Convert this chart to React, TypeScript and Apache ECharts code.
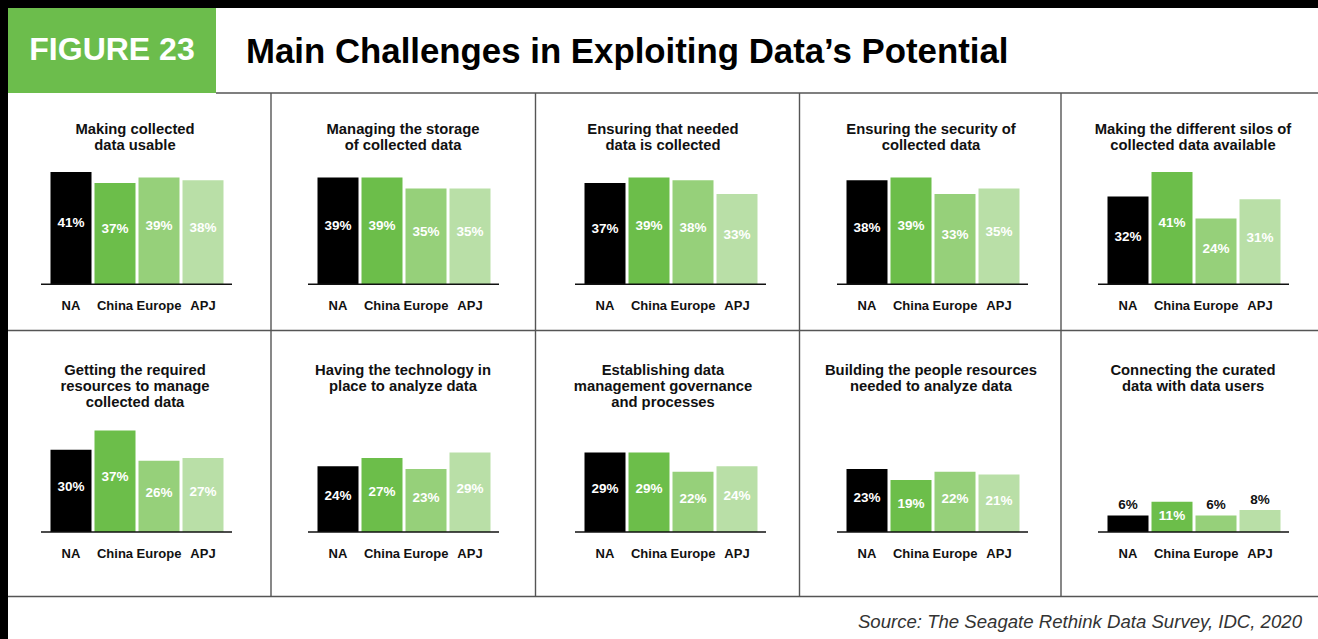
import React, { useEffect, useRef } from "react";
import * as echarts from "echarts";

// ---------- data ----------
const CATEGORIES = ["NA", "China", "Europe", "APJ"];

const PANEL_TITLES = [
  "Making collected\ndata usable",
  "Managing the storage\nof collected data",
  "Ensuring that needed\ndata is collected",
  "Ensuring the security of\ncollected data",
  "Making the different silos of\ncollected data available",
  "Getting the required\nresources to manage\ncollected data",
  "Having the technology in\nplace to analyze data",
  "Establishing data\nmanagement governance\nand processes",
  "Building the people resources\nneeded to analyze data",
  "Connecting the curated\ndata with data users",
];

const usableData = [41, 37, 39, 38];
const storageData = [39, 39, 35, 35];
const collectedData = [37, 39, 38, 33];
const securityData = [38, 39, 33, 35];
const silosData = [32, 41, 24, 31];
const resourcesData = [30, 37, 26, 27];
const technologyData = [24, 27, 23, 29];
const governanceData = [29, 29, 22, 24];
const peopleData = [23, 19, 22, 21];
const connectingData = [6, 11, 6, 8];

const PANEL_VALUES = [
  usableData, storageData, collectedData, securityData, silosData,
  resourcesData, technologyData, governanceData, peopleData, connectingData,
];

const HEADER_LABEL = "FIGURE 23";
const MAIN_TITLE = "Main Challenges in Exploiting Data\u2019s Potential";
const SOURCE_TEXT = "Source: The Seagate Rethink Data Survey, IDC, 2020";

// ---------- style / layout ----------
const BAR_COLORS = ["#000000", "#6cbe4a", "#96d07a", "#b9dfa7"];
const GREEN = "#6cbd4c";
const FONT = '"Liberation Sans", Arial, Helvetica, sans-serif';
const COL_BAR_START = [50, 317, 584, 846, 1107];
const COL_TITLE_X = [135, 403, 663, 931, 1193];
const ROW_BASE = [284.3, 532];
const ROW_TITLE_TOP = [120.5, 361.5];
const Y_MAX = 50;
const GRID_H = 137;
const LINE_COLOR = "#555";

export default function App() {
  const ref = useRef<HTMLDivElement>(null);

  useEffect(() => {
    document.body.style.margin = "0";
    if (!ref.current) return;
    const chart = echarts.init(ref.current, null, { renderer: "svg" });

    const grids: any[] = [];
    const xAxes: any[] = [];
    const yAxes: any[] = [];
    const series: any[] = [];
    const graphics: any[] = [];

    // frame
    graphics.push(
      { type: "rect", shape: { x: 0, y: 0, width: 1318, height: 8 }, style: { fill: "#000" } },
      { type: "rect", shape: { x: 0, y: 0, width: 8, height: 639 }, style: { fill: "#000" } },
      { type: "rect", shape: { x: 8, y: 8, width: 208, height: 85 }, style: { fill: GREEN } },
      {
        type: "text", x: 112, y: 49,
        style: { text: HEADER_LABEL, fill: "#fff", fontSize: 32, fontWeight: "bold", fontFamily: FONT, align: "center", verticalAlign: "middle" },
      },
      {
        type: "text", x: 246, y: 50,
        style: { text: MAIN_TITLE, fill: "#000", fontSize: 34.8, fontWeight: "bold", fontFamily: FONT, align: "left", verticalAlign: "middle" },
      },
      {
        type: "text", x: 1302, y: 621,
        style: { text: SOURCE_TEXT, fill: "#333", fontSize: 18.6, fontStyle: "italic", fontFamily: FONT, align: "right", verticalAlign: "middle" },
      }
    );
    const hLines = [
      [216, 93, 1318, 93],
      [8, 330.5, 1318, 330.5],
      [8, 596.5, 1318, 596.5],
    ];
    const vx = [271, 535.5, 799.5, 1061];
    vx.forEach((x) => hLines.push([x, 93, x, 596.5]));
    hLines.forEach(([x1, y1, x2, y2]) =>
      graphics.push({ type: "line", shape: { x1, y1, x2, y2 }, style: { stroke: LINE_COLOR, lineWidth: 1.4 } })
    );

    PANEL_VALUES.forEach((vals, i) => {
      const row = Math.floor(i / 5);
      const col = i % 5;
      const start = COL_BAR_START[col];
      const base = ROW_BASE[row];
      grids.push({ left: start - 1, top: base - GRID_H, width: 176, height: GRID_H });
      xAxes.push({
        type: "category", gridIndex: i, data: CATEGORIES,
        axisLine: { show: false }, axisTick: { show: false },
        axisLabel: { margin: 15, fontSize: 13, fontWeight: "bold", color: "#111", fontFamily: FONT, interval: 0 },
      });
      yAxes.push({ type: "value", gridIndex: i, min: 0, max: Y_MAX, show: false, splitLine: { show: false } });
      series.push({
        type: "bar", xAxisIndex: i, yAxisIndex: i, barWidth: 41,
        data: vals.map((v, j) => ({
          value: v,
          itemStyle: { color: BAR_COLORS[j] },
          label: v < 10
            ? { position: "top", distance: 11, color: "#111" }
            : { position: ["50%", "45%"], color: "#fff" },
        })),
        label: {
          show: true, formatter: "{c}%", fontSize: 13.5, fontWeight: "bold", fontFamily: FONT,
          align: "center", verticalAlign: "middle",
        },
      });
      // baseline
      graphics.push({
        type: "line",
        shape: { x1: start - 9, y1: base, x2: start + 182, y2: base },
        style: { stroke: "#111", lineWidth: 1.4 },
        z: 10,
      });
      graphics.push({
        type: "text", x: COL_TITLE_X[col], y: ROW_TITLE_TOP[row],
        style: {
          text: PANEL_TITLES[i], fill: "#111", fontSize: 14.8, fontWeight: "bold", fontFamily: FONT,
          align: "center", verticalAlign: "top", lineHeight: 16,
        },
      });
    });

    chart.setOption({
      animation: false,
      backgroundColor: "#fff",
      grid: grids,
      xAxis: xAxes,
      yAxis: yAxes,
      series,
      graphic: graphics,
    });
    return () => chart.dispose();
  }, []);

  return <div ref={ref} style={{ width: 1318, height: 639 }} />;
}
